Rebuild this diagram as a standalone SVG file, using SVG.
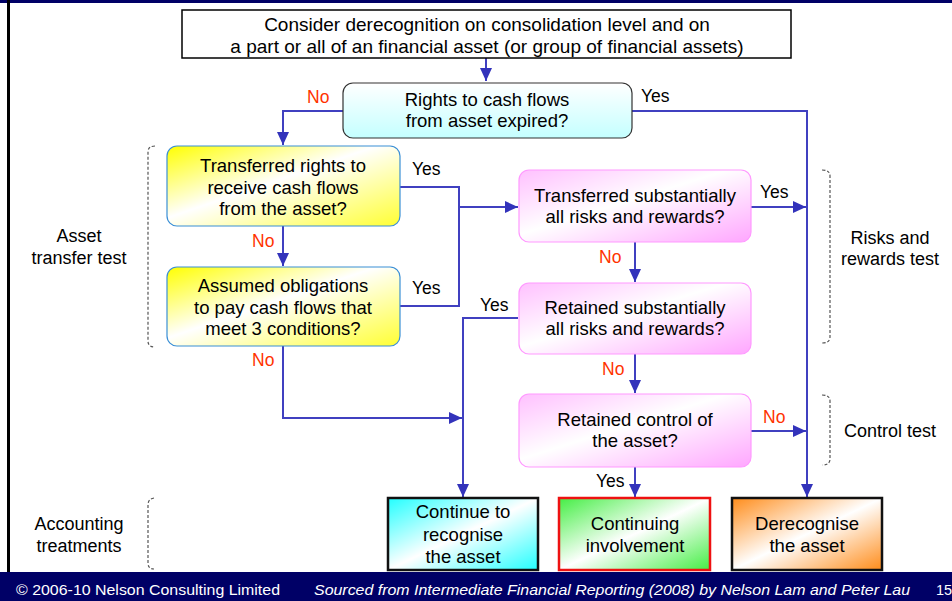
<svg xmlns="http://www.w3.org/2000/svg" width="952" height="601" viewBox="0 0 952 601">
<style>
text{font-family:"Liberation Sans",Arial,sans-serif;fill:#000}
.n{font-size:18.5px;text-anchor:middle}
.t{font-size:19px}
.lbl{font-size:17.5px}
.no{fill:#ff3300}
.side{font-size:18px;text-anchor:middle}
.c{fill:none;stroke:#4040c0;stroke-width:2}
.br{fill:none;stroke:#555;stroke-width:1.2;stroke-dasharray:3,2}
.ft{font-size:14.5px;fill:#fff}
</style>
<defs>
<marker id="ah" markerUnits="userSpaceOnUse" markerWidth="14" markerHeight="12" refX="13" refY="6" orient="auto">
<path d="M0,0 L13,6 L0,12 z" fill="#3333bb"/>
</marker>
<linearGradient id="gCy" x1="0" y1="0" x2="0" y2="1"><stop offset="0" stop-color="#ffffff"/><stop offset="1" stop-color="#c4ffff"/></linearGradient>
<linearGradient id="gYe" x1="0" y1="0" x2="1" y2="1"><stop offset="0" stop-color="#ffff00"/><stop offset="0.45" stop-color="#ffffff"/><stop offset="1" stop-color="#ffff33"/></linearGradient>
<linearGradient id="gPk" x1="0" y1="0" x2="1" y2="1"><stop offset="0" stop-color="#ffc0ff"/><stop offset="0.45" stop-color="#ffffff"/><stop offset="1" stop-color="#ffa6ff"/></linearGradient>
<linearGradient id="gC2" x1="0" y1="0" x2="1" y2="1"><stop offset="0" stop-color="#22ffff"/><stop offset="0.5" stop-color="#ffffff"/><stop offset="1" stop-color="#22ffff"/></linearGradient>
<linearGradient id="gGr" x1="0" y1="0" x2="1" y2="1"><stop offset="0" stop-color="#44ee44"/><stop offset="0.5" stop-color="#ffffff"/><stop offset="1" stop-color="#44ee44"/></linearGradient>
<linearGradient id="gOr" x1="0" y1="0" x2="1" y2="1"><stop offset="0" stop-color="#ff8c1a"/><stop offset="0.5" stop-color="#ffffff"/><stop offset="1" stop-color="#ff8c1a"/></linearGradient>
</defs>
<rect x="0" y="0" width="952" height="601" fill="#fff"/>
<rect x="0" y="0" width="952" height="3" fill="#000066"/>
<rect x="7" y="0" width="3" height="573" fill="#000"/>
<rect x="0" y="572" width="952" height="29" fill="#000066"/>
<g id="connectors">
<path class="c" d="M486,58 V81" marker-end="url(#ah)"/>
<path class="c" d="M343,111 H283 V145" marker-end="url(#ah)"/>
<path class="c" d="M632,111 H807 V497" marker-end="url(#ah)"/>
<path class="c" d="M283,226 V266" marker-end="url(#ah)"/>
<path class="c" d="M400,187 H459 V306 H400"/>
<path class="c" d="M459,207 H518" marker-end="url(#ah)"/>
<path class="c" d="M751,207 H806" marker-end="url(#ah)"/>
<path class="c" d="M635,242 V282" marker-end="url(#ah)"/>
<path class="c" d="M518,318 H463 V497" marker-end="url(#ah)"/>
<path class="c" d="M283,346 V418 H462" marker-end="url(#ah)"/>
<path class="c" d="M635,354 V393" marker-end="url(#ah)"/>
<path class="c" d="M751,431 H806" marker-end="url(#ah)"/>
<path class="c" d="M635,467 V497" marker-end="url(#ah)"/>
</g>
<g id="labels">
<text class="lbl no" x="307" y="103">No</text>
<text class="lbl" x="641" y="102">Yes</text>
<text class="lbl" x="412" y="175">Yes</text>
<text class="lbl no" x="252" y="247">No</text>
<text class="lbl" x="412" y="294">Yes</text>
<text class="lbl no" x="252" y="366">No</text>
<text class="lbl" x="760" y="198">Yes</text>
<text class="lbl no" x="599" y="263">No</text>
<text class="lbl" x="480" y="311">Yes</text>
<text class="lbl no" x="602" y="375">No</text>
<text class="lbl no" x="763" y="423">No</text>
<text class="lbl" x="596" y="487">Yes</text>
</g>
<g id="start">
<rect x="182" y="10" width="609" height="48" fill="#fff" stroke="#000" stroke-width="1.5"/>
<text class="n t" x="487" y="31">Consider derecognition on consolidation level and on</text>
<text class="n t" x="487" y="52.5">a part or all of an financial asset (or group of financial assets)</text>
</g>
<g id="expired">
<rect x="343" y="83" width="289" height="55" rx="10" fill="url(#gCy)" stroke="#333" stroke-width="1.2"/>
<text class="n" x="487" y="106">Rights to cash flows</text>
<text class="n" x="487" y="127">from asset expired?</text>
</g>
<g id="transferred-rights">
<rect x="167" y="146" width="233" height="80" rx="10" fill="url(#gYe)" stroke="#3b8fd6" stroke-width="1.2"/>
<text class="n" x="283" y="172">Transferred rights to</text>
<text class="n" x="283" y="193.5">receive cash flows</text>
<text class="n" x="283" y="215">from the asset?</text>
</g>
<g id="assumed-obligations">
<rect x="167" y="267" width="233" height="79" rx="10" fill="url(#gYe)" stroke="#3b8fd6" stroke-width="1.2"/>
<text class="n" x="283" y="292">Assumed obligations</text>
<text class="n" x="283" y="313.5">to pay cash flows that</text>
<text class="n" x="283" y="335">meet 3 conditions?</text>
</g>
<g id="transferred-risks">
<rect x="519" y="170" width="232" height="72" rx="10" fill="url(#gPk)" stroke="#ff99ff" stroke-width="1.2"/>
<text class="n" x="635" y="202">Transferred substantially</text>
<text class="n" x="635" y="223">all risks and rewards?</text>
</g>
<g id="retained-risks">
<rect x="519" y="283" width="232" height="71" rx="10" fill="url(#gPk)" stroke="#ff99ff" stroke-width="1.2"/>
<text class="n" x="635" y="314">Retained substantially</text>
<text class="n" x="635" y="335">all risks and rewards?</text>
</g>
<g id="retained-control">
<rect x="519" y="394" width="232" height="73" rx="10" fill="url(#gPk)" stroke="#ff99ff" stroke-width="1.2"/>
<text class="n" x="635" y="426">Retained control of</text>
<text class="n" x="635" y="447">the asset?</text>
</g>
<g id="continue-recognise">
<rect x="388" y="498" width="150" height="72" fill="url(#gC2)" stroke="#111" stroke-width="2.5"/>
<text class="n" x="463" y="518">Continue to</text>
<text class="n" x="463" y="540.5">recognise</text>
<text class="n" x="463" y="563">the asset</text>
</g>
<g id="continuing-involvement">
<rect x="559" y="498" width="151" height="72" fill="url(#gGr)" stroke="#ee1111" stroke-width="2.5"/>
<text class="n" x="635" y="530">Continuing</text>
<text class="n" x="635" y="552">involvement</text>
</g>
<g id="derecognise">
<rect x="732" y="498" width="150" height="72" fill="url(#gOr)" stroke="#111" stroke-width="2.5"/>
<text class="n" x="807" y="530">Derecognise</text>
<text class="n" x="807" y="552">the asset</text>
</g>
<g id="asset-transfer-test">
<path class="br" d="M155,146 Q148,146 148,152 V341 Q148,347 155,347"/>
<text class="side" x="79" y="242">Asset</text>
<text class="side" x="79" y="264">transfer test</text>
</g>
<g id="accounting-treatments">
<path class="br" d="M154,498 Q148,499 148,505 V563 Q148,569 154,569"/>
<text class="side" x="79" y="530">Accounting</text>
<text class="side" x="79" y="552">treatments</text>
</g>
<g id="risks-rewards-test">
<path class="br" d="M822,170 Q830,170 830,176 V337 Q830,343 822,343"/>
<text class="side" x="890" y="244">Risks and</text>
<text class="side" x="890" y="265">rewards test</text>
</g>
<g id="control-test">
<path class="br" d="M822,395 Q830,395 830,401 V459 Q830,465 822,465"/>
<text class="side" x="890" y="437">Control test</text>
</g>
<g id="footer">
<text class="ft" x="16" y="595" textLength="264" lengthAdjust="spacingAndGlyphs">© 2006-10 Nelson Consulting Limited</text>
<text class="ft" x="314" y="595" font-style="italic" textLength="596" lengthAdjust="spacingAndGlyphs">Sourced from Intermediate Financial Reporting (2008) by Nelson Lam and Peter Lau</text>
<text class="ft" x="936" y="595">15</text>
</g>
</svg>
